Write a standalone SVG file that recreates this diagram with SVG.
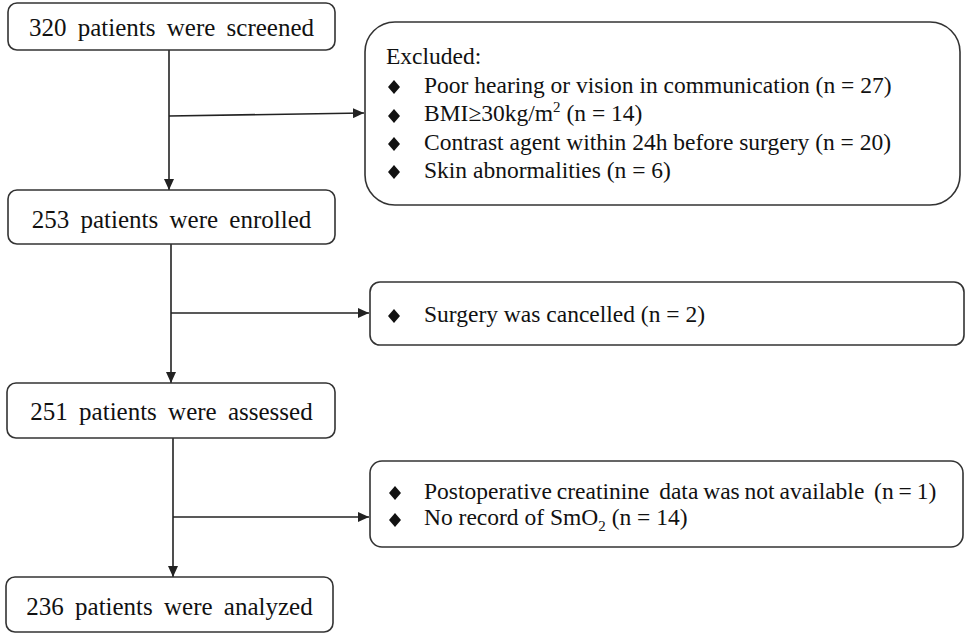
<svg xmlns="http://www.w3.org/2000/svg" width="968" height="636" viewBox="0 0 968 636">
<style>
.box{fill:#fff;stroke:#333;stroke-width:1.6}
.main{font-family:"Liberation Serif","Times New Roman",serif;font-size:25px;fill:#111;text-anchor:middle;word-spacing:5px}
.side{font-family:"Liberation Serif","Times New Roman",serif;font-size:23.5px;fill:#111}
.ln{stroke:#222;stroke-width:1.6;fill:none}
</style>
<defs>
<marker id="arr" viewBox="0 0 11 10" refX="11" refY="5" markerWidth="11" markerHeight="10" markerUnits="userSpaceOnUse" orient="auto">
<path d="M0,0 L11,5 L0,10 Z" fill="#222"/>
</marker>
<polygon id="dia" points="0,-7 6,0 0,7 -6,0" fill="#111"/>
</defs>
<rect width="968" height="636" fill="#fff"/>
<g id="connectors">
<line class="ln" x1="169" y1="50" x2="169" y2="190" marker-end="url(#arr)"/>
<line class="ln" x1="169" y1="116" x2="364" y2="113" marker-end="url(#arr)"/>
<line class="ln" x1="171" y1="244" x2="171" y2="383" marker-end="url(#arr)"/>
<line class="ln" x1="171" y1="313" x2="369" y2="313" marker-end="url(#arr)"/>
<line class="ln" x1="173" y1="438" x2="173" y2="577" marker-end="url(#arr)"/>
<line class="ln" x1="173" y1="517" x2="369" y2="517" marker-end="url(#arr)"/>
</g>
<g id="screened">
<rect class="box" x="8" y="3" width="327" height="47" rx="9"/>
<text class="main" x="171.5" y="36">320 patients were screened</text>
</g>
<g id="excluded">
<rect class="box" x="365" y="22" width="595" height="183" rx="30"/>
<text class="side" x="386" y="64">Excluded:</text>
<use href="#dia" x="394" y="87"/>
<text class="side" x="424" y="92.5">Poor hearing or vision in communication (n = 27)</text>
<use href="#dia" x="394" y="116"/>
<text class="side" x="424" y="121">BMI≥30kg/m<tspan dy="-9" font-size="15">2</tspan><tspan dy="9"> (n = 14)</tspan></text>
<use href="#dia" x="394" y="144"/>
<text class="side" x="424" y="149.5">Contrast agent within 24h before surgery (n = 20)</text>
<use href="#dia" x="394" y="172"/>
<text class="side" x="424" y="178">Skin abnormalities (n = 6)</text>
</g>
<g id="enrolled">
<rect class="box" x="8" y="190" width="327" height="54" rx="9"/>
<text class="main" x="171.5" y="228">253 patients were enrolled</text>
</g>
<g id="cancelled">
<rect class="box" x="370" y="282" width="594" height="63" rx="10"/>
<use href="#dia" x="394" y="316"/>
<text class="side" x="424" y="322">Surgery was cancelled (n = 2)</text>
</g>
<g id="assessed">
<rect class="box" x="7" y="383" width="328" height="55" rx="9"/>
<text class="main" x="171.5" y="420">251 patients were assessed</text>
</g>
<g id="missing">
<rect class="box" x="370" y="461" width="593" height="86" rx="12"/>
<use href="#dia" x="395" y="493"/>
<text class="side" x="424" y="499" word-spacing="-1" xml:space="preserve">Postoperative creatinine  data was not available  (n = 1)</text>
<use href="#dia" x="395" y="520"/>
<text class="side" x="424" y="525">No record of SmO<tspan dy="6" font-size="15">2</tspan><tspan dy="-6"> (n = 14)</tspan></text>
</g>
<g id="analyzed">
<rect class="box" x="6" y="577" width="327" height="55" rx="9"/>
<text class="main" x="169.5" y="615">236 patients were analyzed</text>
</g>
</svg>
